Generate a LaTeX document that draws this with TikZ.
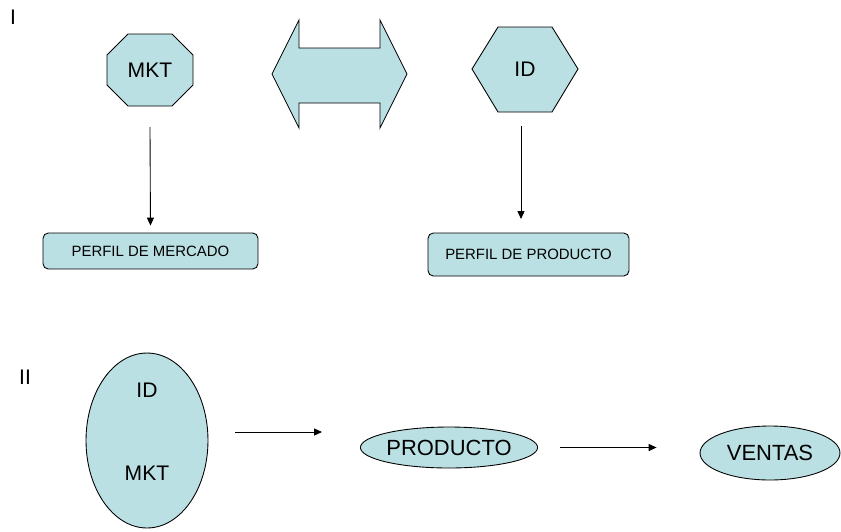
\documentclass[tikz,border=0pt]{standalone}
\usepackage{fontspec}
\setmainfont{Liberation Sans}
\usetikzlibrary{shapes.geometric,arrows.meta}
\definecolor{cajafill}{HTML}{BBE0E3}
\tikzset{
  forma/.style={draw=black, fill=cajafill, line width=0.5pt},
  caja/.style={forma, rectangle, rounded corners=3pt, inner sep=0pt, font=\fontsize{8.5}{10}\selectfont},
  elipse/.style={forma, ellipse, inner sep=0pt, font=\fontsize{12.5}{14}\selectfont},
  flecha/.style={-{Triangle[length=4.5pt,width=4pt]}, line width=0.5pt},
  rotulo/.style={font=\fontsize{12}{14}\selectfont, inner sep=0pt}
}

\begin{document}
\begin{tikzpicture}[x=0.02cm, y=-0.02cm]
		%%%%% START %%%%%
		\useasboundingbox (0,0) rectangle (841,531);
		
		\node[rotulo] (uno) at (13,17) {I};
		
		\draw[forma] (107,55) -- (128,34) -- (172,34) -- (193,55) -- (193,85) -- (172,106) -- (128,106) -- (107,85) -- cycle;
		\node[rotulo] (mkt) at (150,70) {MKT};
		
		\draw[forma] (272,74) -- (299,20) -- (299,48) -- (380,48) -- (380,20) -- (407,74) -- (380,128) -- (380,103) -- (299,103) -- (299,128) -- cycle;
		
		\draw[forma] (472,69) -- (498,27) -- (552,27) -- (578,69) -- (552,112) -- (498,112) -- cycle;
		\node[rotulo] (id) at (525,69) {ID};
		
		\node[caja, minimum width=4.3cm, minimum height=0.72cm] (pmerc) at (150.5,251) {PERFIL DE MERCADO};
		\node[caja, minimum width=4.02cm, minimum height=0.86cm] (pprod) at (528.5,254.5) {PERFIL DE PRODUCTO};
		
		\coordinate (mktbase) at (150,127);
		\coordinate (idbase) at (521,126);
		\coordinate (idfin) at (521,219);
		\draw[flecha, shorten >=0.14cm] (mktbase) -- (pmerc.north);
		\draw[flecha] (idbase) -- (idfin);
		
		\node[rotulo] (dos) at (25,377) {II};
		
		\node[elipse, minimum width=2.44cm, minimum height=3.5cm] (grupo) at (147,440.5) {};
		\node[rotulo] (gid) at (147,390) {ID};
		\node[rotulo] (gmkt) at (147,473) {MKT};
		
		\node[elipse, minimum width=3.44cm, minimum height=0.82cm] (prod) at (449,447.5) {PRODUCTO};
		\node[elipse, minimum width=2.8cm, minimum height=1.08cm] (ventas) at (770,453) {VENTAS};
		
		\coordinate (sale) at (235,432);
		\coordinate (llega) at (322,432);
		\draw[flecha] (sale) -- (llega);
		\draw[flecha, shorten <=0.44cm, shorten >=0.86cm] (prod.east) -- (prod.east -| ventas.west);
		
		%%%%% END %%%%%
\end{tikzpicture}
\end{document}
